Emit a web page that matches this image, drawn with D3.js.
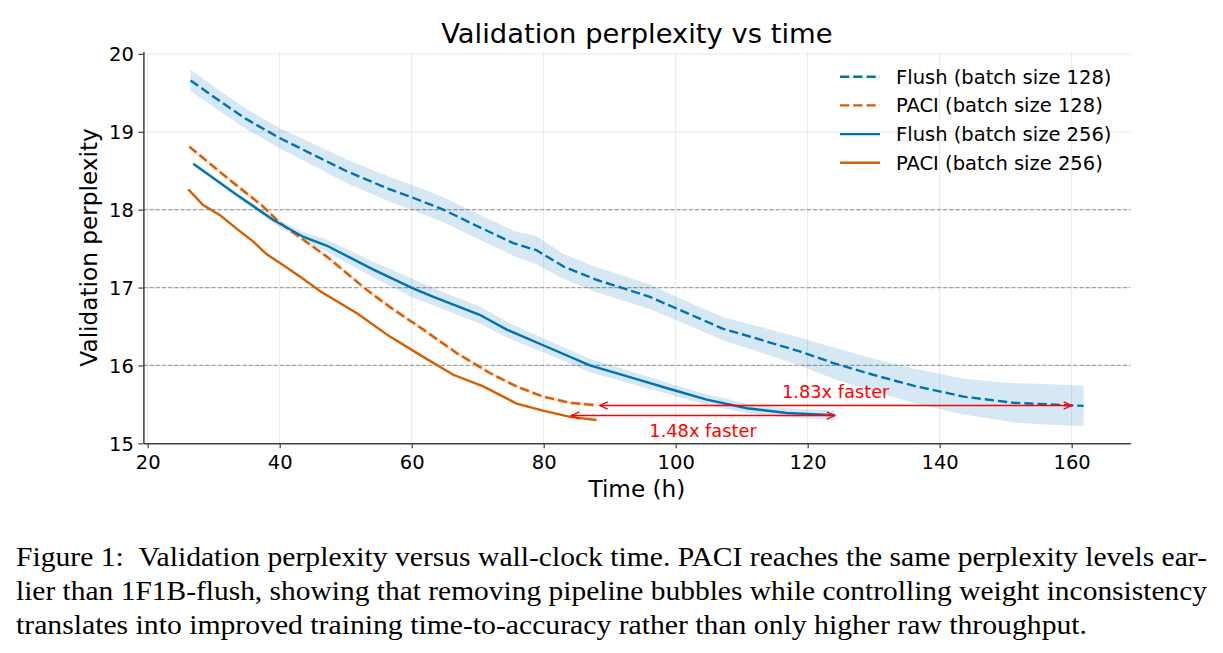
<!DOCTYPE html>
<html>
<head>
<meta charset="utf-8">
<script src="https://cdn.jsdelivr.net/npm/d3@7"></script>
<style>
  body { margin: 0; background: #fff; }
  svg { display: block; font-family: 'DejaVu Sans', sans-serif; }
</style>
</head>
<body>
<svg id="chart" width="1223" height="653"></svg>
<script>
// axis ticks and reference levels
const xTicks = [20, 40, 60, 80, 100, 120, 140, 160];
const yTicks = [15, 16, 17, 18, 19, 20];
const refLevels = [16, 17, 18];

// Flush, batch size 128 (mean and spread)
const flush128Time = [26.5, 31, 35, 40, 50, 56.7, 60, 64.8, 69.9, 75.4, 78.9, 83, 88, 92.1, 96.1, 99.6, 103.4, 107.2, 111.3, 114.8, 118.8, 123.9, 129.9, 136, 143.6, 151.2, 155.2, 161.8];
const flush128Ppl = [19.66, 19.39, 19.16, 18.92, 18.50, 18.26, 18.16, 18.00, 17.79, 17.57, 17.48, 17.27, 17.10, 16.99, 16.88, 16.75, 16.61, 16.47, 16.37, 16.28, 16.18, 16.03, 15.88, 15.74, 15.60, 15.52, 15.505, 15.48];
const flush128Std = [0.14, 0.13, 0.13, 0.13, 0.15, 0.16, 0.16, 0.16, 0.16, 0.16, 0.18, 0.16, 0.16, 0.16, 0.16, 0.15, 0.15, 0.15, 0.16, 0.17, 0.18, 0.2, 0.21, 0.22, 0.23, 0.25, 0.26, 0.26];

// PACI, batch size 128
const paci128Time = [26.3, 31.45, 37.5, 40.05, 47.1, 53.2, 56.7, 61.75, 66.8, 71.9, 75.9, 79.9, 84.0, 87.8];
const paci128Ppl = [18.81, 18.45, 18.04, 17.83, 17.40, 16.97, 16.75, 16.46, 16.16, 15.90, 15.73, 15.60, 15.52, 15.49];

// Flush, batch size 256 (mean and spread)
const flush256Time = [26.9, 33.5, 39.0, 43.6, 47.1, 54.2, 60.2, 63.3, 70.3, 74.4, 80.45, 87.0, 94.6, 98.6, 104.7, 110.8, 116.8, 124.1];
const flush256Ppl = [18.59, 18.19, 17.87, 17.65, 17.54, 17.23, 16.99, 16.88, 16.65, 16.46, 16.24, 16.00, 15.81, 15.71, 15.56, 15.45, 15.39, 15.36];
const flush256Std = [0.02, 0.03, 0.04, 0.06, 0.08, 0.1, 0.12, 0.11, 0.11, 0.1, 0.09, 0.085, 0.08, 0.07, 0.07, 0.06, 0.06, 0.06];

// PACI, batch size 256
const paci256Time = [26.15, 28.4, 30.95, 33.7, 36.0, 38.0, 40.5, 43.1, 46.2, 51.7, 56.7, 61.75, 66.3, 70.85, 75.9, 79.9, 84.0, 88.0];
const paci256Ppl = [18.26, 18.06, 17.93, 17.74, 17.59, 17.43, 17.29, 17.14, 16.95, 16.67, 16.37, 16.11, 15.88, 15.73, 15.51, 15.42, 15.34, 15.30];

const seriesNames = ['Flush (batch size 128)', 'PACI (batch size 128)', 'Flush (batch size 256)', 'PACI (batch size 256)'];

// speed-up annotations
const speedLabels = ['1.83x faster', '1.48x faster'];
const speedFrom = [88.5, 84.2];
const speedTo = [160, 124.1];
const speedLevel = [15.49, 15.357];
const speedTextLevel = [15.578, 15.085];

const captionLines = [
  'Figure 1:\u00a0\u00a0Validation perplexity versus wall-clock time. PACI reaches the same perplexity levels ear-',
  'lier than 1F1B-flush, showing that removing pipeline bubbles while controlling weight inconsistency',
  'translates into improved training time-to-accuracy rather than only higher raw throughput.'
];

const blue = '#0072B2';
const orange = '#D55E00';

const zip = (xs, ys, sd) => xs.map((x, i) => ({x, y: ys[i], sd: sd ? sd[i] : 0}));
const series = [
  {name: seriesNames[0], color: blue, dash: '9.25,4', pts: zip(flush128Time, flush128Ppl, flush128Std), band: true},
  {name: seriesNames[1], color: orange, dash: '9.25,4', pts: zip(paci128Time, paci128Ppl), halo: true},
  {name: seriesNames[2], color: blue, dash: null, pts: zip(flush256Time, flush256Ppl, flush256Std), band: true},
  {name: seriesNames[3], color: orange, dash: null, pts: zip(paci256Time, paci256Ppl)}
];

const plotLeft = 143.4, plotRight = 1130.4, plotTop = 51.6, plotBottom = 443.3;
const fontSize = 19.5;

const svg = d3.select('#chart');
svg.append('rect').attr('width', 1223).attr('height', 653).attr('fill', '#fff');

const x = d3.scaleLinear().domain([19.35, 168.9]).range([plotLeft, plotRight]);
const y = d3.scaleLinear().domain([15.0, 20.03]).range([plotBottom, plotTop]);

// light grid
svg.append('g').selectAll('line').data(xTicks).join('line')
  .attr('x1', d => x(d)).attr('x2', d => x(d))
  .attr('y1', plotTop).attr('y2', plotBottom)
  .attr('stroke', '#e8e8e8').attr('stroke-width', 1);
svg.append('g').selectAll('line').data(yTicks).join('line')
  .attr('x1', plotLeft).attr('x2', plotRight)
  .attr('y1', d => y(d)).attr('y2', d => y(d))
  .attr('stroke', '#e8e8e8').attr('stroke-width', 1);

// dashed reference levels
svg.append('g').selectAll('line').data(refLevels).join('line')
  .attr('x1', plotLeft).attr('x2', plotRight)
  .attr('y1', d => y(d)).attr('y2', d => y(d))
  .attr('stroke', '#a0a0a0').attr('stroke-width', 1.2)
  .attr('stroke-dasharray', '4,2.2');

// bands
const area = d3.area().x(d => x(d.x)).y0(d => y(d.y - d.sd)).y1(d => y(d.y + d.sd));
series.filter(s => s.band).forEach(s => {
  svg.append('path').datum(s.pts)
    .attr('d', area)
    .attr('fill', s.color).attr('fill-opacity', 0.16);
});

// lines
const line = d3.line().x(d => x(d.x)).y(d => y(d.y));
series.forEach(s => {
  if (s.halo) {
    svg.append('path').datum(s.pts)
      .attr('d', line).attr('fill', 'none')
      .attr('stroke', '#fbe3d4').attr('stroke-width', 3.6);
  }
  svg.append('path').datum(s.pts)
    .attr('d', line)
    .attr('fill', 'none')
    .attr('stroke', s.color)
    .attr('stroke-width', 2.4)
    .attr('stroke-dasharray', s.dash);
});

// speed-up arrows
const headLen = 8, headW = 3.6;
speedLabels.forEach((label, i) => {
  const g = svg.append('g').attr('stroke', '#ff0000').attr('stroke-width', 1.3).attr('fill', 'none');
  const x0 = x(speedFrom[i]), x1 = x(speedTo[i]);
  const yy = Math.round(y(speedLevel[i])) + 0.5;
  g.append('line').attr('x1', x0).attr('x2', x1).attr('y1', yy).attr('y2', yy);
  g.append('path').attr('d', `M${x0 + headLen},${yy - headW}L${x0},${yy}L${x0 + headLen},${yy + headW}`);
  g.append('path').attr('d', `M${x1 - headLen},${yy - headW}L${x1},${yy}L${x1 - headLen},${yy + headW}`);
  svg.append('text')
    .attr('x', (x0 + x1) / 2).attr('y', y(speedTextLevel[i]))
    .attr('text-anchor', 'middle')
    .attr('fill', '#ff0000')
    .style('font-size', '17.8px')
    .text(label);
});

// axes
const xAxis = d3.axisBottom(x).tickValues(xTicks).tickSize(5).tickSizeOuter(0).tickFormat(d3.format('d'));
const yAxis = d3.axisLeft(y).tickValues(yTicks).tickSize(5).tickSizeOuter(0).tickFormat(d3.format('d'));

const gx = svg.append('g').attr('transform', `translate(0,${plotBottom})`).call(xAxis);
gx.selectAll('text').attr('y', 26).attr('dy', null);
const gy = svg.append('g').attr('transform', `translate(${plotLeft},0)`).call(yAxis);
gy.selectAll('text').attr('x', -9.5).attr('dy', '0.36em');

[gx, gy].forEach(g => {
  g.attr('font-family', 'DejaVu Sans').attr('font-size', fontSize);
  g.select('.domain').attr('stroke', '#404040').attr('stroke-width', 1.5);
  g.selectAll('.tick line').attr('stroke', '#404040').attr('stroke-width', 1.2);
  g.selectAll('.tick text').attr('fill', '#000');
});

svg.append('text')
  .attr('x', (plotLeft + plotRight) / 2).attr('y', 496.5)
  .attr('text-anchor', 'middle')
  .style('font-size', '23.2px')
  .text('Time (h)');

svg.append('text')
  .attr('transform', `translate(97,${(plotTop + plotBottom) / 2}) rotate(-90)`)
  .attr('text-anchor', 'middle')
  .style('font-size', '23.2px')
  .text('Validation perplexity');

svg.append('text')
  .attr('x', (plotLeft + plotRight) / 2).attr('y', 43)
  .attr('text-anchor', 'middle')
  .style('font-size', '27.4px')
  .text('Validation perplexity vs time');

// legend
const legend = svg.append('g').attr('transform', 'translate(840,76.7)');
series.forEach((s, i) => {
  const row = legend.append('g').attr('transform', `translate(0,${i * 28.7})`);
  row.append('line').attr('x1', 0).attr('x2', 40).attr('y1', 0).attr('y2', 0)
    .attr('stroke', s.color).attr('stroke-width', 2.4)
    .attr('stroke-dasharray', s.dash);
  row.append('text').attr('x', 56).attr('dy', '0.36em')
    .style('font-size', `${fontSize}px`)
    .text(s.name);
});

// caption
const capWidths = [1191, 1191, 1071];
svg.append('g').selectAll('text').data(captionLines).join('text')
  .attr('x', 16)
  .attr('y', (d, i) => 565.5 + i * 34)
  .attr('font-family', 'Liberation Serif, Times New Roman, serif')
  .attr('font-size', 28)
  .attr('textLength', (d, i) => capWidths[i])
  .attr('lengthAdjust', 'spacingAndGlyphs')
  .text(d => d);
</script>
</body>
</html>
